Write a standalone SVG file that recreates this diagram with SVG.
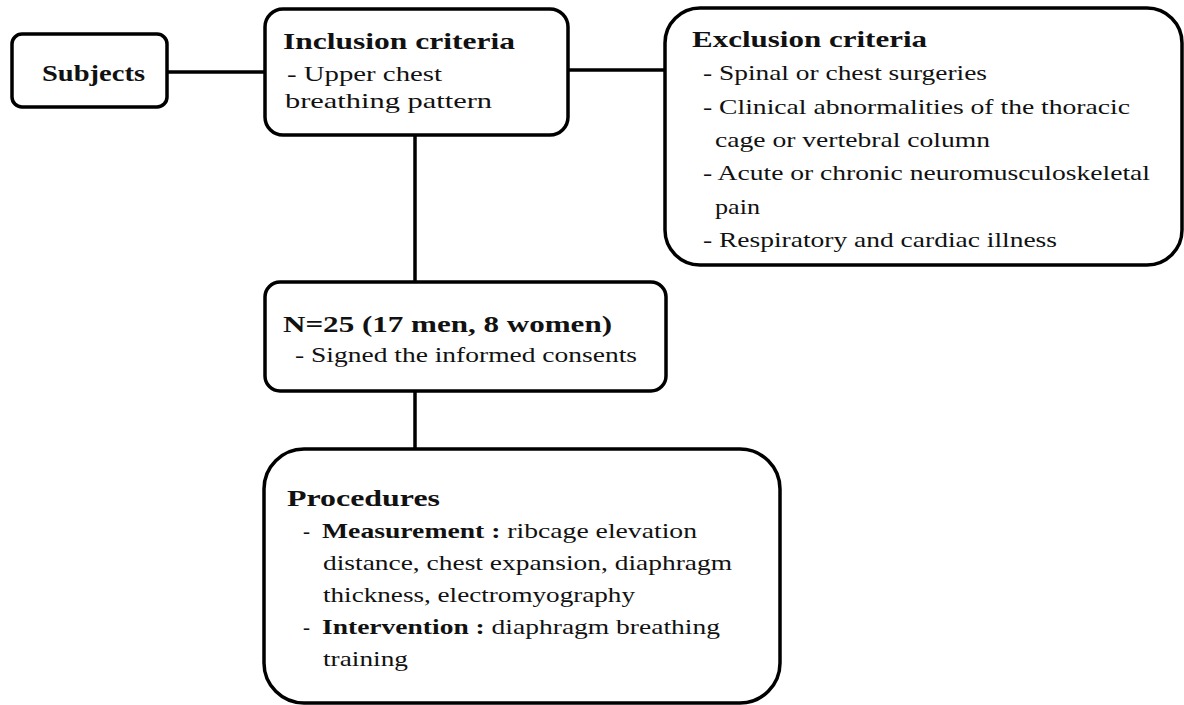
<svg xmlns="http://www.w3.org/2000/svg" width="1184" height="705" viewBox="0 0 1184 705">
<style>
.box{fill:#fff;stroke:#000;stroke-width:3.5}
.ln{stroke:#000;stroke-width:3.5;fill:none}
.t{font-size:24px;font-weight:bold}
.r{font-size:21px}
.b{font-weight:bold}
</style>
<rect width="1184" height="705" fill="#fff"/>
<g id="connectors">
<line class="ln" x1="167" y1="72" x2="265" y2="72"/>
<line class="ln" x1="568" y1="70" x2="665" y2="70"/>
<line class="ln" x1="415" y1="135" x2="415" y2="282"/>
<line class="ln" x1="415" y1="391" x2="415" y2="449"/>
</g>
<g font-family="'Liberation Serif', 'DejaVu Serif Condensed', 'DejaVu Serif', serif" fill="#111">
<g id="subjects">
<rect class="box" x="12" y="34" width="155" height="73" rx="10"/>
<text class="t" x="42" y="81" textLength="103" lengthAdjust="spacingAndGlyphs">Subjects</text>
</g>
<g id="inclusion">
<rect class="box" x="265" y="9" width="303" height="126" rx="18"/>
<text class="t" x="283" y="49" textLength="232" lengthAdjust="spacingAndGlyphs">Inclusion criteria</text>
<text class="r" x="287" y="81" textLength="155" lengthAdjust="spacingAndGlyphs">- Upper chest</text>
<text class="r" x="285" y="108" textLength="207" lengthAdjust="spacingAndGlyphs">breathing pattern</text>
</g>
<g id="exclusion">
<rect class="box" x="665" y="8" width="517" height="257" rx="35"/>
<text class="t" x="692" y="47" textLength="235" lengthAdjust="spacingAndGlyphs">Exclusion criteria</text>
<text class="r" x="703" y="80" textLength="284" lengthAdjust="spacingAndGlyphs">- Spinal or chest surgeries</text>
<text class="r" x="703" y="113.5" textLength="427" lengthAdjust="spacingAndGlyphs">- Clinical abnormalities of the thoracic</text>
<text class="r" x="715" y="147" textLength="275" lengthAdjust="spacingAndGlyphs">cage or vertebral column</text>
<text class="r" x="703" y="180" textLength="447" lengthAdjust="spacingAndGlyphs">- Acute or chronic neuromusculoskeletal</text>
<text class="r" x="715" y="213.5" textLength="45" lengthAdjust="spacingAndGlyphs">pain</text>
<text class="r" x="703" y="247" textLength="354" lengthAdjust="spacingAndGlyphs">- Respiratory and cardiac illness</text>
</g>
<g id="sample">
<rect class="box" x="265" y="282" width="401" height="109" rx="15"/>
<text class="t" x="283" y="332" textLength="329" lengthAdjust="spacingAndGlyphs">N=25 (17 men, 8 women)</text>
<text class="r" x="295" y="362" textLength="342" lengthAdjust="spacingAndGlyphs">- Signed the informed consents</text>
</g>
<g id="procedures">
<rect class="box" x="264" y="449" width="516" height="254" rx="40"/>
<text class="t" x="287" y="506" textLength="153" lengthAdjust="spacingAndGlyphs">Procedures</text>
<text class="r" x="303" y="538">-</text>
<text class="r" x="322" y="538" textLength="375" lengthAdjust="spacingAndGlyphs"><tspan class="b">Measurement :</tspan> ribcage elevation</text>
<text class="r" x="323" y="570" textLength="409" lengthAdjust="spacingAndGlyphs">distance, chest expansion, diaphragm</text>
<text class="r" x="323" y="602" textLength="312" lengthAdjust="spacingAndGlyphs">thickness, electromyography</text>
<text class="r" x="303" y="634">-</text>
<text class="r" x="322" y="634" textLength="398" lengthAdjust="spacingAndGlyphs"><tspan class="b">Intervention :</tspan> diaphragm breathing</text>
<text class="r" x="323" y="666" textLength="85" lengthAdjust="spacingAndGlyphs">training</text>
</g>
</g>
</svg>
